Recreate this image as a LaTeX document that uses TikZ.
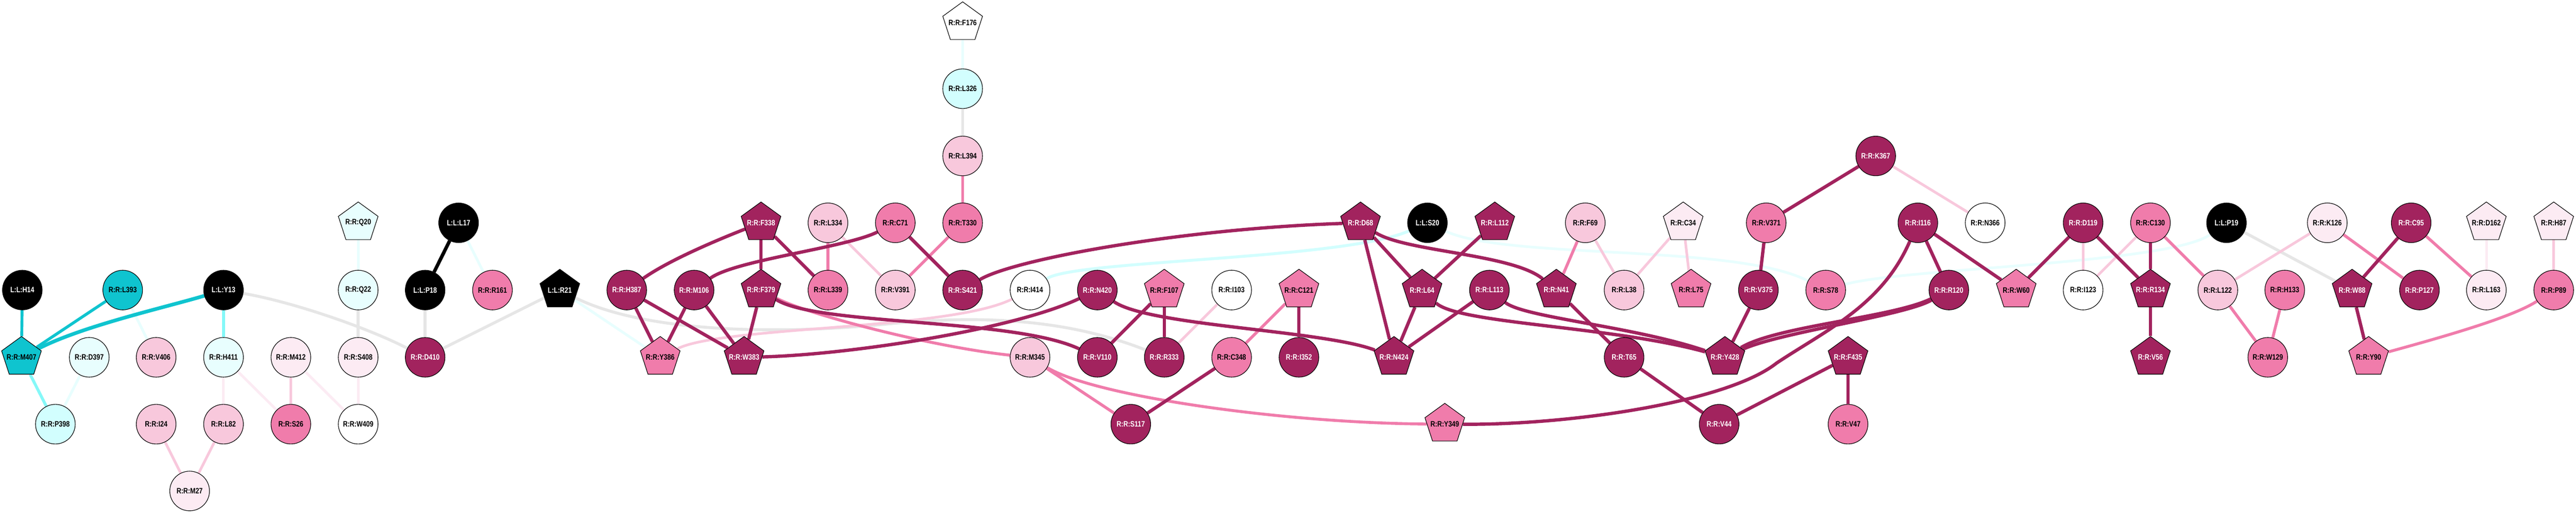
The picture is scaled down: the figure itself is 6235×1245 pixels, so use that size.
\documentclass[tikz,border=0pt]{standalone}
\usepackage{fontspec}
\setmainfont{Liberation Sans}[FakeStretch=0.82]
\usetikzlibrary{shapes.geometric}
\pgfdeclarelayer{bg}
\pgfsetlayers{bg,main}
\definecolor{cdk}{HTML}{A2235E}
\definecolor{cmd}{HTML}{F07CAB}
\definecolor{clp}{HTML}{F8C8DC}
\definecolor{cvlp}{HTML}{FCEBF3}
\definecolor{ccy}{HTML}{0FC4CF}
\definecolor{caq}{HTML}{85F8F8}
\definecolor{clcy}{HTML}{D2FEFE}
\definecolor{cvlcy}{HTML}{E8FEFE}
\definecolor{cgr}{HTML}{E6E6E6}
\newcommand\pgl[1]{\makebox[0pt][c]{#1}}
\begin{document}
\begin{tikzpicture}[x=0.01cm,y=-0.01cm,
  lab/.style={font=\fontsize{5.4}{6}\selectfont\bfseries},
  nd/.style={lab,circle,draw=black,line width=0.4pt,minimum size=0.96cm,inner sep=0pt},
  pg/.style={lab,regular polygon,regular polygon sides=5,draw=black,line width=0.4pt,minimum size=1.01cm,inner sep=0pt},
  fblk/.style={fill=black,text=white},
  fdk/.style={fill=cdk,text=white},
  fmd/.style={fill=cmd,text=black},
  flp/.style={fill=clp,text=black},
  fvlp/.style={fill=cvlp,text=black},
  fwh/.style={fill=white,text=black},
  fcy/.style={fill=ccy,text=black},
  flcy/.style={fill=clcy,text=black},
  fvlcy/.style={fill=cvlcy,text=black},
  edk/.style={draw=cdk,line width=2.28pt},
  emd/.style={draw=cmd,line width=2pt},
  elp/.style={draw=clp,line width=1.8pt},
  evlp/.style={draw=cvlp,line width=1.8pt},
  egr/.style={draw=cgr,line width=2pt},
  ecy/.style={draw=ccy,line width=2pt},
  eaq/.style={draw=caq,line width=2pt},
  elcy/.style={draw=clcy,line width=2pt},
  evlcy/.style={draw=cvlcy,line width=1.8pt},
  eblk/.style={draw=black,line width=2.4pt}
]
\useasboundingbox (0,0) rectangle (6235,1245);
\begin{pgfonlayer}{bg}
\fill[white] (0,0) rectangle (6235,1245);
\end{pgfonlayer}
% ---- left block
\node[nd,fblk] (H14) at (54,703) {L:L:H14};
\node[nd,fcy] (L393) at (297,703) {R:R:L393};
\node[nd,fblk] (Y13) at (541,703) {L:L:Y13};
\node[nd,fvlcy] (Q22) at (867,703) {R:R:Q22};
\node[nd,fblk] (P18) at (1029,703) {L:L:P18};
\node[pg,fvlcy] (Q20) at (867,540) {\pgl{R:R:Q20}};
\node[pg,fcy] (M407) at (52,866) {\pgl{R:R:M407}};
\node[nd,fvlcy] (D397) at (216,866) {R:R:D397};
\node[nd,flp] (V406) at (378,866) {R:R:V406};
\node[nd,fvlcy] (H411) at (541,866) {R:R:H411};
\node[nd,fvlp] (M412) at (704,866) {R:R:M412};
\node[nd,fvlp] (S408) at (867,866) {R:R:S408};
\node[nd,fdk] (D410) at (1029,866) {R:R:D410};
\node[nd,flcy] (P398) at (134,1028) {R:R:P398};
\node[nd,flp] (I24) at (378,1028) {R:R:I24};
\node[nd,flp] (L82) at (541,1028) {R:R:L82};
\node[nd,fmd] (S26) at (704,1028) {R:R:S26};
\node[nd,fwh] (W409) at (867,1028) {R:R:W409};
\node[nd,fvlp] (M27) at (459,1190) {R:R:M27};
% ---- second block
\node[nd,fblk] (L17) at (1110,540) {L:L:L17};
\node[nd,fmd] (R161) at (1192,703) {R:R:R161};
\node[pg,fblk] (R21) at (1355,703) {\pgl{L:L:R21}};
\node[nd,fdk] (H387) at (1517,703) {R:R:H387};
\node[nd,fdk] (M106) at (1680,703) {R:R:M106};
\node[pg,fdk] (F379) at (1842,703) {\pgl{R:R:F379}};
\node[nd,fmd] (L339) at (2004,703) {R:R:L339};
\node[pg,fdk] (F338) at (1842,540) {\pgl{R:R:F338}};
\node[nd,flp] (L334) at (2004,540) {R:R:L334};
\node[pg,fmd] (Y386) at (1598,866) {\pgl{R:R:Y386}};
\node[pg,fdk] (W383) at (1801,866) {\pgl{R:R:W383}};
% ---- third block
\node[pg,fwh] (F176) at (2330,55) {\pgl{R:R:F176}};
\node[nd,flcy] (L326) at (2330,215) {R:R:L326};
\node[nd,flp] (L394) at (2330,378) {R:R:L394};
\node[nd,fmd] (T330) at (2330,540) {R:R:T330};
\node[nd,fmd] (C71) at (2167,540) {R:R:C71};
\node[nd,flp] (V391) at (2167,703) {R:R:V391};
\node[nd,fdk] (S421) at (2330,703) {R:R:S421};
\node[nd,fwh] (I414) at (2493,703) {R:R:I414};
\node[nd,fdk] (N420) at (2656,703) {R:R:N420};
\node[pg,fmd] (F107) at (2818,703) {\pgl{R:R:F107}};
\node[nd,fwh] (I103) at (2981,703) {R:R:I103};
\node[nd,flp] (M345) at (2493,866) {R:R:M345};
\node[nd,fdk] (V110) at (2656,866) {R:R:V110};
\node[nd,fdk] (R333) at (2818,866) {R:R:R333};
\node[nd,fmd] (C348) at (2981,866) {R:R:C348};
\node[nd,fdk] (S117) at (2737,1028) {R:R:S117};
% ---- fourth block
\node[pg,fdk] (D68) at (3293,540) {\pgl{R:R:D68}};
\node[nd,fblk] (S20) at (3455,540) {L:L:S20};
\node[pg,fdk] (L112) at (3618,540) {\pgl{R:R:L112}};
\node[nd,flp] (F69) at (3837,540) {R:R:F69};
\node[pg,fvlp] (C34) at (4074,540) {\pgl{R:R:C34}};
\node[pg,fmd] (C121) at (3144,703) {\pgl{R:R:C121}};
\node[pg,fdk] (L64) at (3442,703) {\pgl{R:R:L64}};
\node[nd,fdk] (L113) at (3605,703) {R:R:L113};
\node[pg,fdk] (N41) at (3767,703) {\pgl{R:R:N41}};
\node[nd,flp] (L38) at (3931,703) {R:R:L38};
\node[nd,fdk] (I352) at (3144,866) {R:R:I352};
\node[pg,fdk] (N424) at (3374,866) {\pgl{R:R:N424}};
\node[nd,fdk] (T65) at (3931,866) {R:R:T65};
\node[pg,fmd] (Y349) at (3497,1028) {\pgl{R:R:Y349}};
% ---- fifth block
\node[nd,fdk] (K367) at (4540,378) {R:R:K367};
\node[nd,fmd] (V371) at (4275,540) {R:R:V371};
\node[nd,fdk] (I116) at (4642,540) {R:R:I116};
\node[nd,fwh] (N366) at (4805,540) {R:R:N366};
\node[nd,fdk] (D119) at (5042,540) {R:R:D119};
\node[pg,fmd] (L75) at (4093,703) {\pgl{R:R:L75}};
\node[nd,fdk] (V375) at (4256,703) {R:R:V375};
\node[nd,fmd] (S78) at (4419,703) {R:R:S78};
\node[nd,fdk] (R120) at (4717,703) {R:R:R120};
\node[pg,fmd] (W60) at (4880,703) {\pgl{R:R:W60}};
\node[nd,fwh] (I123) at (5042,703) {R:R:I123};
\node[pg,fdk] (Y428) at (4175,866) {\pgl{R:R:Y428}};
\node[pg,fdk] (F435) at (4473,866) {\pgl{R:R:F435}};
\node[nd,fdk] (V44) at (4161,1028) {R:R:V44};
\node[nd,fmd] (V47) at (4473,1028) {R:R:V47};
% ---- right block
\node[nd,fmd] (C130) at (5205,540) {R:R:C130};
\node[nd,fblk] (P19) at (5389,540) {L:L:P19};
\node[nd,fvlp] (K126) at (5633,540) {R:R:K126};
\node[nd,fdk] (C95) at (5836,540) {R:R:C95};
\node[pg,fvlp] (D162) at (6018,540) {\pgl{R:R:D162}};
\node[pg,fvlp] (H87) at (6181,540) {\pgl{R:R:H87}};
\node[pg,fdk] (R134) at (5205,703) {\pgl{R:R:R134}};
\node[nd,flp] (L122) at (5368,703) {R:R:L122};
\node[nd,fmd] (H133) at (5530,703) {R:R:H133};
\node[pg,fdk] (W88) at (5693,703) {\pgl{R:R:W88}};
\node[nd,fdk] (P127) at (5856,703) {R:R:P127};
\node[nd,fvlp] (L163) at (6018,703) {R:R:L163};
\node[nd,fmd] (P89) at (6181,703) {R:R:P89};
\node[pg,fdk] (V56) at (5205,866) {\pgl{R:R:V56}};
\node[nd,fmd] (W129) at (5489,866) {R:R:W129};
\node[pg,fmd] (Y90) at (5733,866) {\pgl{R:R:Y90}};

\begin{pgfonlayer}{bg}
% very light cyan
\draw[evlcy] (L393) -- (V406);
\draw[evlcy] (D397) -- (P398);
\draw[evlcy] (Q20) -- (Q22);
\draw[evlcy] (L17) -- (R161);
\draw[evlcy] (R21) -- (Y386);
\draw[evlcy] (F176) -- (L326);
\draw[evlcy] (S20) .. controls (3650,630) and (4200,590) .. (S78);
\draw[evlcy] (S78) .. controls (4600,650) and (5250,640) .. (P19);
\draw[elcy] (I414) .. controls (2600,630) and (3250,630) .. (S20);
% grey
\draw[egr] (Y13) .. controls (700,730) and (880,790) .. (D410);
\draw[egr] (Q22) -- (S408);
\draw[egr] (P18) -- (D410);
\draw[egr] (R21) -- (D410);
\draw[egr] (R21) .. controls (1550,800) and (1850,815) .. (2150,785) .. controls (2400,760) and (2600,780) .. (R333);
\draw[egr] (L326) -- (L394);
\draw[egr] (P19) -- (W88);
% very light pink
\draw[evlp] (H411) -- (L82);
\draw[evlp] (H411) -- (S26);
\draw[evlp] (M412) -- (W409);
\draw[evlp] (S408) -- (W409);
\draw[evlp] (D162) -- (L163);
% light pink
\draw[elp] (M412) -- (S26);
\draw[elp] (I24) -- (M27);
\draw[elp] (L82) -- (M27);
\draw[elp] (L334) -- (V391);
\draw[elp] (Y386) .. controls (1750,790) and (2300,800) .. (I414);
\draw[elp] (I103) -- (R333);
\draw[elp] (F69) -- (L38);
\draw[elp] (C34) -- (L38);
\draw[elp] (C34) -- (L75);
\draw[elp] (K367) -- (N366);
\draw[elp] (D119) -- (I123);
\draw[elp] (C130) -- (I123);
\draw[elp] (K126) -- (L122);
\draw[elp] (H87) -- (P89);
% cyan
\draw[ecy] (H14) -- (M407);
\draw[ecy] (L393) -- (M407);
\draw[ecy,line width=2.5pt] (Y13) .. controls (400,745) and (200,790) .. (M407);
\draw[eaq] (Y13) -- (H411);
\draw[eaq] (M407) -- (P398);
% black
\draw[eblk] (L17) -- (P18);
% medium pink
\draw[emd] (L334) -- (L339);
\draw[emd] (T330) -- (V391);
\draw[emd] (L394) -- (T330);
\draw[emd] (F379) .. controls (1950,760) and (2250,840) .. (M345);
\draw[emd] (C121) -- (C348);
\draw[emd] (M345) -- (S117);
\draw[emd] (M345) .. controls (2650,960) and (3100,1025) .. (Y349);
\draw[emd] (F69) -- (N41);
\draw[emd] (C130) -- (L122);
\draw[emd] (K126) -- (P127);
\draw[emd] (C95) -- (L163);
\draw[emd] (L122) -- (W129);
\draw[emd] (H133) -- (W129);
\draw[emd] (Y90) .. controls (5900,820) and (6080,770) .. (P89);
% dark
\draw[edk] (H387) .. controls (1620,630) and (1740,580) .. (F338);
\draw[edk] (H387) -- (Y386);
\draw[edk] (H387) -- (W383);
\draw[edk] (M106) -- (Y386);
\draw[edk] (M106) -- (W383);
\draw[edk] (M106) .. controls (1780,630) and (2050,600) .. (C71);
\draw[edk] (F338) -- (F379);
\draw[edk] (F338) -- (L339);
\draw[edk] (F379) -- (W383);
\draw[edk] (F379) .. controls (1980,790) and (2450,770) .. (V110);
\draw[edk] (W383) .. controls (2050,860) and (2450,800) .. (N420);
\draw[edk] (C71) -- (S421);
\draw[edk] (S421) .. controls (2450,630) and (2850,555) .. (D68);
\draw[edk] (N420) .. controls (2780,790) and (3200,800) .. (N424);
\draw[edk] (F107) -- (V110);
\draw[edk] (F107) -- (R333);
\draw[edk] (C348) -- (S117);
\draw[edk] (D68) -- (L64);
\draw[edk] (D68) -- (N424);
\draw[edk] (D68) .. controls (3400,610) and (3660,615) .. (N41);
\draw[edk] (L112) -- (L64);
\draw[edk] (L64) -- (N424);
\draw[edk] (L113) -- (N424);
\draw[edk] (C121) -- (I352);
\draw[edk] (L64) .. controls (3530,785) and (3900,790) .. (Y428);
\draw[edk] (L113) .. controls (3690,770) and (3950,790) .. (Y428);
\draw[edk] (N41) -- (T65);
\draw[edk] (T65) -- (V44);
\draw[edk] (Y349) .. controls (3800,1030) and (4180,975) .. (4300,880) .. controls (4420,800) and (4555,740) .. (I116);
\draw[edk] (K367) -- (V371);
\draw[edk] (V371) -- (V375);
\draw[edk] (V375) -- (Y428);
\draw[edk] (I116) -- (R120);
\draw[edk] (I116) -- (W60);
\draw[edk] (Y428) .. controls (4300,790) and (4580,770) .. (R120);
\draw[edk] (Y428) .. controls (4310,805) and (4610,765) .. (R120);
\draw[edk] (D119) -- (W60);
\draw[edk] (F435) -- (V44);
\draw[edk] (F435) -- (V47);
\draw[edk] (D119) -- (R134);
\draw[edk] (C130) -- (R134);
\draw[edk] (R134) -- (V56);
\draw[edk] (C95) -- (W88);
\draw[edk] (W88) -- (Y90);
\end{pgfonlayer}
\end{tikzpicture}
\end{document}
